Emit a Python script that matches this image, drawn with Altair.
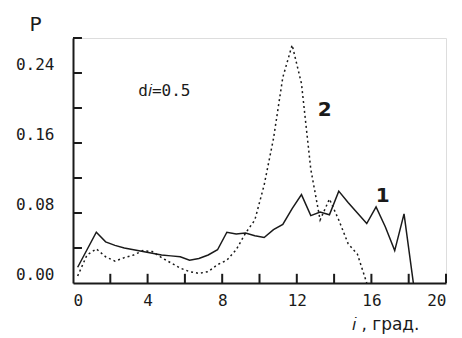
import altair as alt
import pandas as pd

# Curve 1 (solid)
x1 = [0.25, 0.75, 1.25, 1.75, 2.25, 2.75, 3.25, 3.75, 4.25, 4.75, 5.25, 5.75,
      6.25, 6.75, 7.25, 7.75, 8.25, 8.75, 9.25, 9.75, 10.25, 10.75, 11.25,
      11.75, 12.25, 12.75, 13.25, 13.75, 14.25, 14.75, 15.25, 15.75, 16.25,
      16.75, 17.25, 17.75, 18.25]
y1 = [0.018, 0.038, 0.058, 0.047, 0.043, 0.040, 0.038, 0.036, 0.034, 0.032,
      0.031, 0.030, 0.026, 0.028, 0.032, 0.038, 0.058, 0.056, 0.057, 0.054,
      0.052, 0.061, 0.067, 0.085, 0.101, 0.077, 0.081, 0.078, 0.105, 0.092,
      0.080, 0.068, 0.087, 0.064, 0.037, 0.079, 0.0]

# Curve 2 (dotted)
x2 = [0.25, 0.75, 1.25, 1.75, 2.25, 2.75, 3.25, 3.75, 4.25, 4.75, 5.25, 5.75,
      6.25, 6.75, 7.25, 7.75, 8.25, 8.75, 9.25, 9.75, 10.25, 10.75, 11.25,
      11.75, 12.25, 12.75, 13.25, 13.75, 14.25, 14.75, 15.25, 15.75]
y2 = [0.008, 0.032, 0.039, 0.030, 0.025, 0.029, 0.032, 0.037, 0.036, 0.029,
      0.023, 0.017, 0.013, 0.011, 0.013, 0.021, 0.026, 0.038, 0.057, 0.072,
      0.112, 0.165, 0.235, 0.272, 0.228, 0.130, 0.072, 0.096, 0.072, 0.045,
      0.033, 0.0]

x_ticks = [2, 4, 6, 8, 10, 12, 14, 16, 18, 20]
x_labels = [0, 4, 8, 12, 16, 20]
y_ticks = [0.04, 0.08, 0.12, 0.16, 0.20, 0.24, 0.28]
y_labels = [0.0, 0.08, 0.16, 0.24]

curve_labels = ["1", "2"]
curve_lx = [16.6, 13.5]
curve_ly = [0.100, 0.198]

FONT = "DejaVu Sans"
MONO = "DejaVu Sans Mono"
INK = "#1a1a1a"

df1 = pd.DataFrame({"x": x1, "y": y1})
df2 = pd.DataFrame({"x": x2, "y": y2})

xs = alt.Scale(domain=[0, 20], nice=False, zero=False)
ys = alt.Scale(domain=[0, 0.28], nice=False, zero=False)

xaxis = alt.Axis(values=x_labels, format="d", tickSize=0, labelPadding=9,
                 labelFont=MONO, labelFontSize=16, labelColor=INK,
                 domainColor=INK, domainWidth=2, grid=False,
                 title="𝑖 , град.", titleFont=FONT, titleFontSize=17,
                 titleFontWeight="normal", titleColor=INK, titleAlign="right",
                 titleAnchor="start", titleX=346, titleY=46,
                 titleBaseline="alphabetic")
yaxis = alt.Axis(values=y_labels, format=".2f", tickSize=0, labelPadding=19,
                 labelFont=MONO, labelFontSize=16, labelColor=INK,
                 labelOffset=-9,
                 domainColor=INK, domainWidth=2, grid=False,
                 title="P", titleFont=FONT, titleFontSize=20,
                 titleFontWeight="normal", titleColor=INK, titleAngle=0,
                 titleAlign="left", titleX=-44, titleY=-8,
                 titleBaseline="alphabetic")

line1 = alt.Chart(df1).mark_line(color=INK, strokeWidth=1.5).encode(
    x=alt.X("x:Q", scale=xs, axis=xaxis),
    y=alt.Y("y:Q", scale=ys, axis=yaxis),
)
line2 = alt.Chart(df2).mark_line(color=INK, strokeWidth=1.5,
                                 strokeDash=[2, 3]).encode(
    x=alt.X("x:Q", scale=xs),
    y=alt.Y("y:Q", scale=ys),
)

xt = pd.DataFrame({"x": x_ticks, "y0": 0.0, "y1": 0.0105})
yt = pd.DataFrame({"y": y_ticks, "x0": 0.0, "x1": 0.48})
xtick = alt.Chart(xt).mark_rule(color=INK, strokeWidth=2).encode(
    x=alt.X("x:Q", scale=xs), y=alt.Y("y0:Q", scale=ys), y2="y1:Q")
ytick = alt.Chart(yt).mark_rule(color=INK, strokeWidth=2).encode(
    y=alt.Y("y:Q", scale=ys), x=alt.X("x0:Q", scale=xs), x2="x1:Q")

lab = pd.DataFrame({"t": curve_labels, "x": curve_lx, "y": curve_ly})
labels = alt.Chart(lab).mark_text(font=FONT, fontSize=20, fontWeight="bold",
                                  color=INK, align="center",
                                  baseline="middle").encode(
    x=alt.X("x:Q", scale=xs), y=alt.Y("y:Q", scale=ys), text="t:N")

ann = pd.DataFrame({"t": ["d𝑖=0.5"], "x": [3.5], "y": [0.219]})
annot = alt.Chart(ann).mark_text(font=MONO, fontSize=16, color=INK,
                                 align="left", baseline="middle").encode(
    x=alt.X("x:Q", scale=xs), y=alt.Y("y:Q", scale=ys), text="t:N")

chart = alt.layer(line1, line2, xtick, ytick, labels, annot).properties(
    width=373, height=245,
    autosize=alt.AutoSizeParams(type="none"),
    padding={"left": 65, "top": 30, "right": 8, "bottom": 55},
).configure_view(stroke=None).configure(background="white")

chart.save("out.html", embed_options={"renderer": "svg", "actions": False})
